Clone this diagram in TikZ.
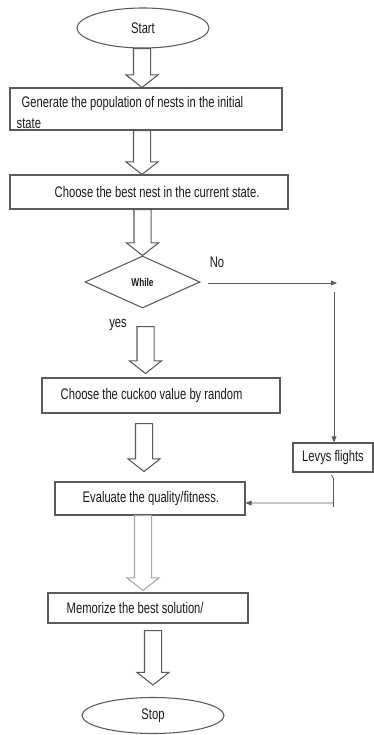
\documentclass[tikz,border=0pt]{standalone}
\usepackage{fontspec}
\setmainfont{Liberation Sans}[FakeStretch=0.73]
\usetikzlibrary{shapes.geometric,arrows.meta,calc}
\definecolor{ln}{HTML}{5A5A5A}
\definecolor{lt}{HTML}{A8A8A8}
\definecolor{tx}{HTML}{1A1A1A}
\newcommand\fatarrow[4][ln]{%
  \draw[#1, line width=0.8pt, line join=miter] let \p1=(#2), \p2=(#3) in
   (#4*0.75pt-6.4pt,\y1) -- (#4*0.75pt+6.4pt,\y1) -- (#4*0.75pt+6.4pt,\y2+9.4pt)
   -- (#4*0.75pt+12pt,\y2+9.4pt) -- (#4*0.75pt,\y2) -- (#4*0.75pt-12pt,\y2+9.4pt)
   -- (#4*0.75pt-6.4pt,\y2+9.4pt) -- cycle;}
\tikzset{
  box/.style={draw=ln, line width=0.8pt, rectangle, inner sep=0pt},
  ell/.style={draw=ln, line width=0.8pt, ellipse, inner sep=0pt, text=tx,
    font=\fontsize{11.5pt}{13pt}\selectfont},
  txt/.style={inner sep=0pt, text=tx, font=\fontsize{11.5pt}{15.75pt}\selectfont, align=left},
  thin/.style={draw=ln, line width=0.6pt},
  tip/.style={-{Triangle[length=4.5pt,width=3.6pt]}}
}
\begin{document}
\begin{tikzpicture}[x=0.75pt,y=-0.75pt]
\useasboundingbox (0,0) rectangle (374,735);
% nodes
\node[ell, minimum width=99pt, minimum height=30pt] (start) at (143,28) {Start};
\node[box, minimum width=204pt, minimum height=31.5pt] (b1) at (146,109) {};
\node[txt, anchor=west] (t1) at ([xshift=5.25pt,yshift=-2.6pt]b1.west) {\hspace*{3.75pt}Generate the population of nests in the initial\\state};
\node[box, minimum width=208.5pt, minimum height=25.5pt] (b2) at (149,192) {};
\node[txt, anchor=west] (t2) at ([xshift=33.75pt]b2.west) {Choose the best nest in the current state.};
\node[draw=ln, line width=0.8pt, diamond, inner sep=0pt, minimum width=86.25pt, minimum height=39pt,
  text=tx, font=\fontsize{8.5pt}{9pt}\selectfont\bfseries] (dia) at (142.5,282) {While};
\node[box, minimum width=178.5pt, minimum height=26.25pt] (b3) at (161,395.5) {};
\node[txt, anchor=west] (t3) at ([xshift=14.25pt]b3.west) {Choose the cuckoo value by random};
\node[box, minimum width=142.5pt, minimum height=24.75pt] (b4) at (150,498.5) {};
\node[txt, anchor=west] (t4) at ([xshift=21pt]b4.west) {Evaluate the quality/fitness.};
\node[box, minimum width=60pt, minimum height=21.75pt, text=tx,
  font=\fontsize{11.5pt}{13pt}\selectfont] (levy) at (333,457.5) {Levys flights};
\node[box, minimum width=150pt, minimum height=22.5pt] (b5) at (148,608) {};
\node[txt, anchor=west] (t5) at ([xshift=14.25pt]b5.west) {Memorize the best solution/};
\node[ell, minimum width=106.5pt, minimum height=27pt] (stop) at (153,715.5) {Stop};
% labels
\node[txt] (no) at (217,262) {No};
\node[txt] (yes) at (118,325) {yes};
% fat arrows
\fatarrow{start.south}{b1.north}{142}
\fatarrow{b1.south}{b2.north}{142}
\fatarrow{b2.south}{dia.north}{142.5}
\fatarrow{[yshift=-13.5pt]dia.south}{[yshift=3pt]b3.north}{145.5}
\fatarrow{[yshift=-7.5pt]b3.south}{[yshift=7.5pt]b4.north}{144}
\fatarrow[lt]{b4.south}{[yshift=1.5pt]b5.north}{143}
\fatarrow{[yshift=-5.25pt]b5.south}{[yshift=9pt]stop.north}{153}
% no branch
\coordinate (c1) at (337,283);
\coordinate (c2) at (334,292);
\coordinate (c3) at (333,478);
\coordinate (c4) at (333,507);
\coordinate (c5) at (333,503);
\draw[thin, tip] ([xshift=5.25pt,yshift=-0.75pt]dia.east) -- (c1);
\draw[thin, tip] (c2) -- (levy.north -| c2);
\draw[thin] (c3) -- (c4);
\draw[thin] (c3) -- ++(-1.5,-3);
\draw[thin, tip] (c5) -- ([yshift=-3.4pt]b4.east);
\end{tikzpicture}
\end{document}
